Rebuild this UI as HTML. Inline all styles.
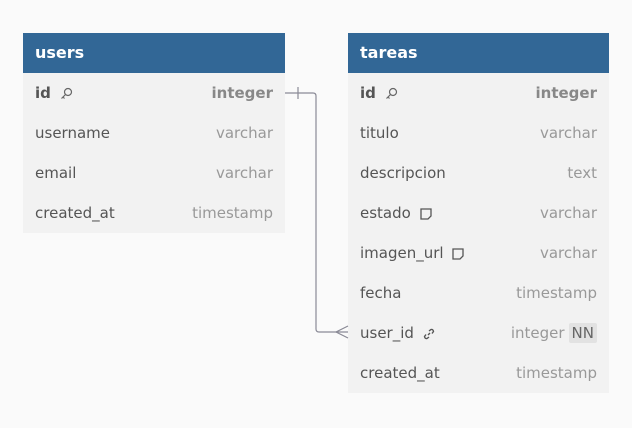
<!DOCTYPE html>
<html><head><meta charset="utf-8"><style>
body{margin:0;width:632px;height:428px;background:#fafafa;font-family:"DejaVu Sans","Liberation Sans",sans-serif;position:relative;overflow:hidden}
.t{position:absolute;top:33px;background:#f2f2f2}
.h{height:40px;background:#326796;color:#fff;font-weight:bold;font-size:16px;line-height:40px;padding-left:12px;box-sizing:border-box}
.r{height:40px;display:flex;justify-content:space-between;align-items:center;padding:0 12px;font-size:15px;color:#555}
.r .ty{color:#999}
.b{font-weight:bold}.b .ty{color:#888}
.nn{background:#e2e2e2;color:#666;padding:1px 3px;margin-left:4px;border-radius:2px}
.ic{display:inline-block;vertical-align:middle;margin-left:4px}
</style></head><body>
<div class="t" style="left:23px;width:262px">
<div class="h">users</div>
<div class="r b"><span>id <svg class="ic" width="13" height="13" fill="none" stroke="#666" stroke-width="1.2"><circle cx="8" cy="5" r="3.5"/><path d="M5.5 7.5 L1.5 11.5 M3 10 L4.5 11.5"/></svg></span><span class="ty">integer</span></div>
<div class="r"><span>username</span><span class="ty">varchar</span></div>
<div class="r"><span>email</span><span class="ty">varchar</span></div>
<div class="r"><span>created_at</span><span class="ty">timestamp</span></div>
</div>
<div class="t" style="left:348px;width:261px">
<div class="h">tareas</div>
<div class="r b"><span>id <svg class="ic" width="13" height="13" fill="none" stroke="#666" stroke-width="1.2"><circle cx="8" cy="5" r="3.5"/><path d="M5.5 7.5 L1.5 11.5 M3 10 L4.5 11.5"/></svg></span><span class="ty">integer</span></div>
<div class="r"><span>titulo</span><span class="ty">varchar</span></div>
<div class="r"><span>descripcion</span><span class="ty">text</span></div>
<div class="r"><span>estado <svg class="ic" width="12" height="12" fill="none" stroke="#555" stroke-width="1.3"><path d="M1 1 H11 V8 L8 11 H1 Z"/></svg></span><span class="ty">varchar</span></div>
<div class="r"><span>imagen_url <svg class="ic" width="12" height="12" fill="none" stroke="#555" stroke-width="1.3"><path d="M1 1 H11 V8 L8 11 H1 Z"/></svg></span><span class="ty">varchar</span></div>
<div class="r"><span>fecha</span><span class="ty">timestamp</span></div>
<div class="r"><span>user_id <svg class="ic" width="12" height="12" fill="none" stroke="#555" stroke-width="1.4"><path d="M5 7 L7 5 M6 3 L8 1.5 Q10 1 10.5 3.5 L9 5.5 M6 9 L4 10.5 Q2 11 1.5 8.5 L3 6.5"/></svg></span><span><span class="ty">integer</span><span class="nn">NN</span></span></div>
<div class="r"><span>created_at</span><span class="ty">timestamp</span></div>
</div>
<svg width="632" height="428" style="position:absolute;left:0;top:0" fill="none" stroke="#8a8a96" stroke-width="1.2">
<path d="M285 93 H313 Q316 93 316 96 V329 Q316 332 319 332 H348"/>
<path d="M298 87 V99"/>
<path d="M348 326 L336 332 L348 338"/>
</svg>
</body></html>
